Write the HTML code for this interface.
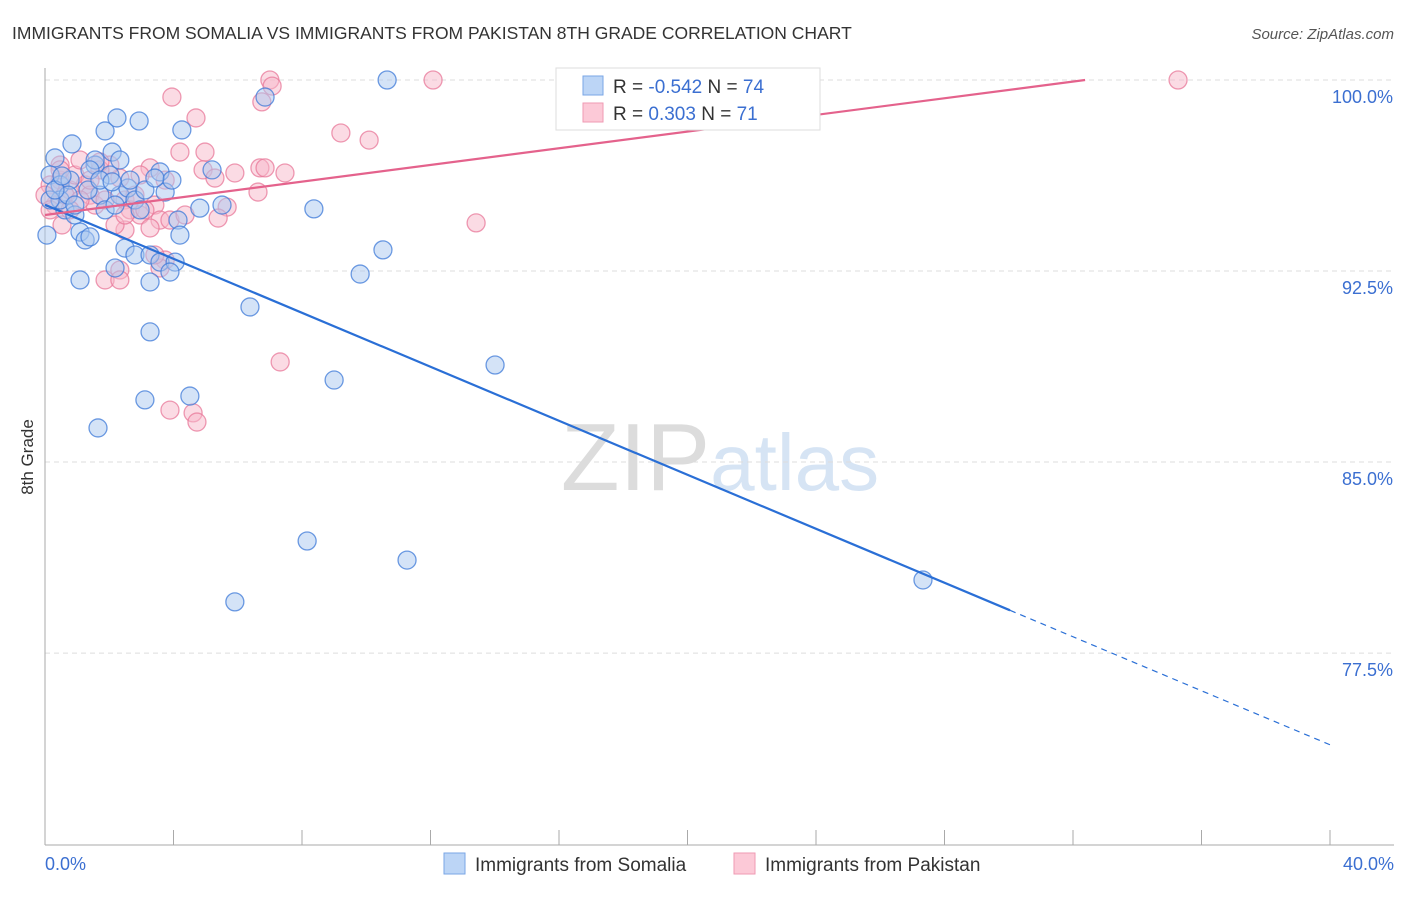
<!DOCTYPE html>
<html><head><meta charset="utf-8"><style>
body{margin:0;background:#fff;font-family:"Liberation Sans",sans-serif}
svg text{font-family:"Liberation Sans",sans-serif}
</style></head><body>
<svg id="chart" width="1406" height="892" xmlns="http://www.w3.org/2000/svg">
<text x="12" y="39" font-size="17.5" fill="#333">IMMIGRANTS FROM SOMALIA VS IMMIGRANTS FROM PAKISTAN 8TH GRADE CORRELATION CHART</text>
<text x="1394" y="39" font-size="15" fill="#555" font-style="italic" text-anchor="end">Source: ZipAtlas.com</text>
<text x="720" y="490" font-size="96" fill="#e6e6e6" text-anchor="middle" font-family="Liberation Serif"><tspan fill="#dcdcdc">ZIP</tspan><tspan fill="#d6e4f4" font-family="Liberation Sans" font-size="80">atlas</tspan></text>
<g id="grid"></g>
<g id="axes"></g>
<g id="pink"></g>
<g id="blue"></g>
<g id="lines"></g>
<text transform="translate(33,457) rotate(-90)" font-size="17" fill="#333" text-anchor="middle">8th Grade</text>
<g>
<rect x="556" y="68" width="264" height="62" fill="#fff" stroke="#ddd"/>
<rect x="583" y="76" width="20" height="19" fill="#bcd5f6" stroke="#7aa6e6"/>
<rect x="583" y="103" width="20" height="19" fill="#fcc9d7" stroke="#ef9ab3"/>
<text x="613" y="93" font-size="19" fill="#333">R = <tspan fill="#3b6fd1">-0.542</tspan>   N = <tspan fill="#3b6fd1">74</tspan></text>
<text x="613" y="120" font-size="19" fill="#333">R =  <tspan fill="#3b6fd1"> 0.303</tspan>   N = <tspan fill="#3b6fd1"> 71</tspan></text>
</g>
<g>
<rect x="444" y="853" width="21" height="21" fill="#bcd5f6" stroke="#7aa6e6"/>
<text x="475" y="871" font-size="19" fill="#333">Immigrants from Somalia</text>
<rect x="734" y="853" width="21" height="21" fill="#fcc9d7" stroke="#ef9ab3"/>
<text x="765" y="871" font-size="19" fill="#333">Immigrants from Pakistan</text>
</g>
</svg>
<script>
const blueX=[0.06,0.31,0.84,0.16,0.47,0.62,0.93,1.09,1.25,1.40,1.09,1.65,1.87,2.24,2.93,2.09,1.56,1.71,1.87,2.33,2.58,2.80,3.11,2.96,2.49,2.80,2.18,3.27,3.58,4.05,3.89,3.27,3.27,3.11,4.51,3.58,3.74,3.95,4.14,4.20,4.26,5.20,4.82,5.51,6.38,6.85,10.65,8.37,10.52,9.81,9.00,14.01,8.16,11.27,5.91,27.33,0.47,0.78,1.34,2.02,2.33,3.42,1.56,0.72,0.16,0.93,1.40,2.65,1.71,0.31,0.53,2.09,2.18];
const blueY=[93.91,96.94,97.49,96.27,95.88,94.90,94.70,94.03,93.72,93.84,92.15,86.34,98.00,98.51,98.39,97.17,96.66,95.48,94.90,95.48,95.76,95.29,95.68,94.90,93.40,93.13,92.62,93.13,92.85,92.85,92.46,92.07,90.11,87.44,87.59,96.39,95.60,96.07,94.50,93.91,98.04,96.47,94.97,95.09,91.09,99.33,100.0,94.94,93.33,92.38,88.22,88.81,81.90,81.15,79.51,80.37,95.29,96.07,95.68,96.27,96.86,96.15,96.86,95.48,95.29,95.09,96.47,96.07,96.07,95.68,96.23,96.00,95.09];
const pinkX=[3.95,7.00,7.07,6.75,12.08,35.27,16.34,9.21,10.09,4.70,4.20,4.98,3.27,4.92,5.29,5.91,6.69,6.85,7.47,6.63,5.67,5.39,3.74,2.96,2.33,2.02,1.71,1.25,0.78,0.47,0.16,0.31,0.62,0.93,1.40,1.56,1.87,2.49,2.65,2.96,3.42,3.58,3.27,2.49,2.18,3.74,3.58,3.42,2.33,1.87,2.33,7.32,3.89,4.61,4.73,13.42,0.47,1.09,1.71,0.00,0.16,0.53,1.40,2.80,3.11,3.89,4.36,2.49,1.09,0.78,0.47];
const pinkY=[99.33,100,99.76,99.14,100,100,100,97.92,97.64,98.51,97.17,97.17,96.55,96.47,96.15,96.35,96.55,96.55,96.35,95.60,95.01,94.58,96.07,96.27,96.15,96.66,96.47,95.88,95.68,96.07,95.88,95.09,95.48,96.27,95.48,95.09,95.29,95.29,94.90,94.70,95.09,94.50,94.19,94.11,94.31,92.93,92.62,93.13,92.54,92.15,92.15,88.93,87.04,86.93,86.57,94.39,96.66,96.86,96.78,95.48,94.90,94.31,96.07,95.48,94.90,94.50,94.70,94.70,95.29,94.90,96.47];
const yTicks=[100,92.5,85,77.5];
const yTickLabels=["100.0%","92.5%","85.0%","77.5%"];
const xTicks=[0,4,8,12,16,20,24,28,32,36,40];
const blueTrend=[95.1,-0.53];
const pinkTrend=[94.7,0.1637];
const NS="http://www.w3.org/2000/svg";
const X0=45,X1=1330,Xmin=0,Xmax=40,Ytop=80,Ymax=100,pxPer=25.47;
const sx=v=>X0+(v-Xmin)/(Xmax-Xmin)*(X1-X0);
const sy=v=>Ytop+(Ymax-v)*pxPer;
function mk(tag,attrs,parent){const e=document.createElementNS(NS,tag);for(const k in attrs)e.setAttribute(k,attrs[k]);parent.appendChild(e);return e;}
const grid=document.getElementById('grid'),axes=document.getElementById('axes');
yTicks.forEach((t,i)=>{
 const l=mk('line',{x1:45,x2:1394,y1:sy(t),y2:sy(t),stroke:'#ddd','stroke-dasharray':'5,4'},grid);
 
 
 const tx=mk('text',{x:1393,y:sy(t)+23,'font-size':18,fill:'#3b6fd1','text-anchor':'end'},grid);
 tx.textContent=yTickLabels[i];
 
 
});
const ya=mk('line',{x1:45,x2:45,y1:68,y2:845,stroke:'#aaa'},axes);


const xa=mk('line',{x1:45,x2:1394,y1:845,y2:845,stroke:'#aaa'},axes);


xTicks.forEach(t=>{
 const l=mk('line',{x1:sx(t),x2:sx(t),y1:830,y2:845,stroke:'#aaa'},axes);
 
 
});
[[0,'0.0%','start',45],[40,'40.0%','end',1394]].forEach(a=>{
 const tx=mk('text',{x:a[3],y:870,'font-size':18,fill:'#3b6fd1','text-anchor':a[2]},axes);
 tx.textContent=a[1];
 
 
});
function pts(xs,ys,g,fill,stroke,name){
 xs.forEach((x,i)=>{
  const c=mk('circle',{cx:sx(x),cy:sy(ys[i]),r:9,fill:fill,'fill-opacity':0.5,stroke:stroke,'stroke-opacity':0.75,'stroke-width':1.3},g);
  
  
 });
}
pts(pinkX,pinkY,document.getElementById('pink'),'#f8b8ca','#e8789a','pakistan-point');
pts(blueX,blueY,document.getElementById('blue'),'#a9c8f0','#3d7ad8','somalia-point');
const lines=document.getElementById('lines');
const bEnd=30.04;
const b1=mk('line',{x1:sx(0),y1:sy(blueTrend[0]),x2:sx(bEnd),y2:sy(blueTrend[0]+blueTrend[1]*bEnd),stroke:'#2a6fd6','stroke-width':2.2},lines);


const b2=mk('line',{x1:sx(bEnd),y1:sy(blueTrend[0]+blueTrend[1]*bEnd),x2:sx(40),y2:sy(blueTrend[0]+blueTrend[1]*40),stroke:'#2a6fd6','stroke-width':1.2,'stroke-dasharray':'6,5'},lines);


const pEnd=(100-pinkTrend[0])/pinkTrend[1];
const p1=mk('line',{x1:sx(0),y1:sy(pinkTrend[0]),x2:sx(pEnd),y2:sy(100),stroke:'#e4628c','stroke-width':2.2},lines);


</script>
</body></html>
